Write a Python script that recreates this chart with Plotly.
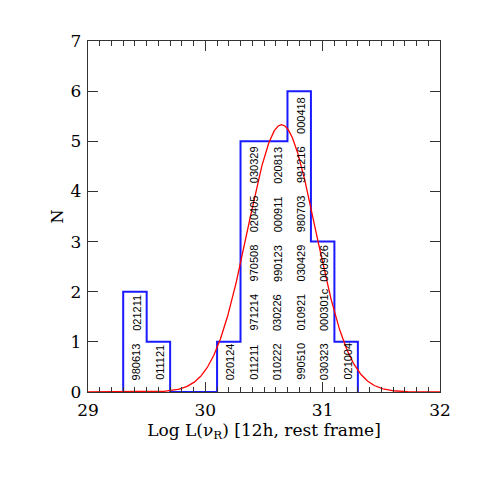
import numpy as np
import plotly.graph_objects as go

# Histogram data (bins of width 0.2 in Log L)
bin_left = [29.3, 29.5, 29.7, 29.9, 30.1, 30.3, 30.5, 30.7, 30.9, 31.1]
bin_width = 0.2
counts = [2, 1, 0, 0, 1, 5, 5, 6, 3, 1]

# GRB labels per bin (bottom to top)
bin_labels = [
    ["980613", "021211"],
    ["011121"],
    [],
    [],
    ["020124"],
    ["011211", "971214", "970508", "020405", "030329"],
    ["010222", "030226", "990123", "000911", "020813"],
    ["990510", "010921", "030429", "980703", "991216", "000418"],
    ["030323", "000301c", "000926"],
    ["021004"],
]

# Gaussian fit parameters
fit_amp = 5.33
fit_mean = 30.65
fit_sigma = 0.29

x_ticks = [29, 30, 31, 32]
y_ticks = [0, 1, 2, 3, 4, 5, 6, 7]

# Step outline of the histogram
hx, hy = [bin_left[0]], [0]
for left, c in zip(bin_left, counts):
    hx += [left, left + bin_width]
    hy += [c, c]
hx.append(bin_left[-1] + bin_width)
hy.append(0)

xf = np.linspace(29, 32, 601)
yf = fit_amp * np.exp(-(xf - fit_mean) ** 2 / (2 * fit_sigma ** 2))

fig = go.Figure()
fig.add_trace(go.Scatter(x=hx, y=hy, mode="lines",
                         line=dict(color="#1a1aff", width=2), hoverinfo="skip"))
fig.add_trace(go.Scatter(x=xf, y=yf, mode="lines",
                         line=dict(color="red", width=1.3), hoverinfo="skip"))

for left, labs in zip(bin_left, bin_labels):
    for i, lab in enumerate(labs):
        fig.add_annotation(x=left + bin_width / 2, y=0.2 + 0.98 * i, text=lab,
                           textangle=-90, showarrow=False, xanchor="center",
                           yanchor="bottom", xshift=2,
                           font=dict(family="Liberation Sans, Arial", size=11, color="black"))

axis_common = dict(showline=True, linecolor="#333333", linewidth=1.3, mirror="ticks",
                   ticks="inside", tickcolor="#333333", tickwidth=1.2, ticklen=10,
                   showgrid=False, zeroline=False,
                   tickfont=dict(family="DejaVu Serif", size=17, color="black"))

fig.update_xaxes(range=[29, 32], tickvals=x_ticks, ticktext=[str(v) for v in x_ticks],
                 ticklabelstandoff=2,
                 minor=dict(dtick=0.1, tick0=29, ticks="inside", ticklen=5,
                            tickcolor="#333333", tickwidth=1.2, showgrid=False),
                 title=dict(text="Log L(ν<sub>R</sub>) [12h, rest frame]", standoff=3,
                            font=dict(family="DejaVu Serif", size=17, color="black")),
                 **axis_common)
fig.update_yaxes(range=[0, 7], tickvals=y_ticks, ticktext=[str(v) for v in y_ticks],
                 ticklabelstandoff=2,
                 title=dict(text="N", standoff=3,
                            font=dict(family="DejaVu Serif", size=16, color="black")),
                 **axis_common)

fig.update_layout(width=480, height=480, showlegend=False,
                  margin=dict(l=80, r=48, t=33, b=96),
                  plot_bgcolor="white", paper_bgcolor="white")

fig.write_html("out.html")
